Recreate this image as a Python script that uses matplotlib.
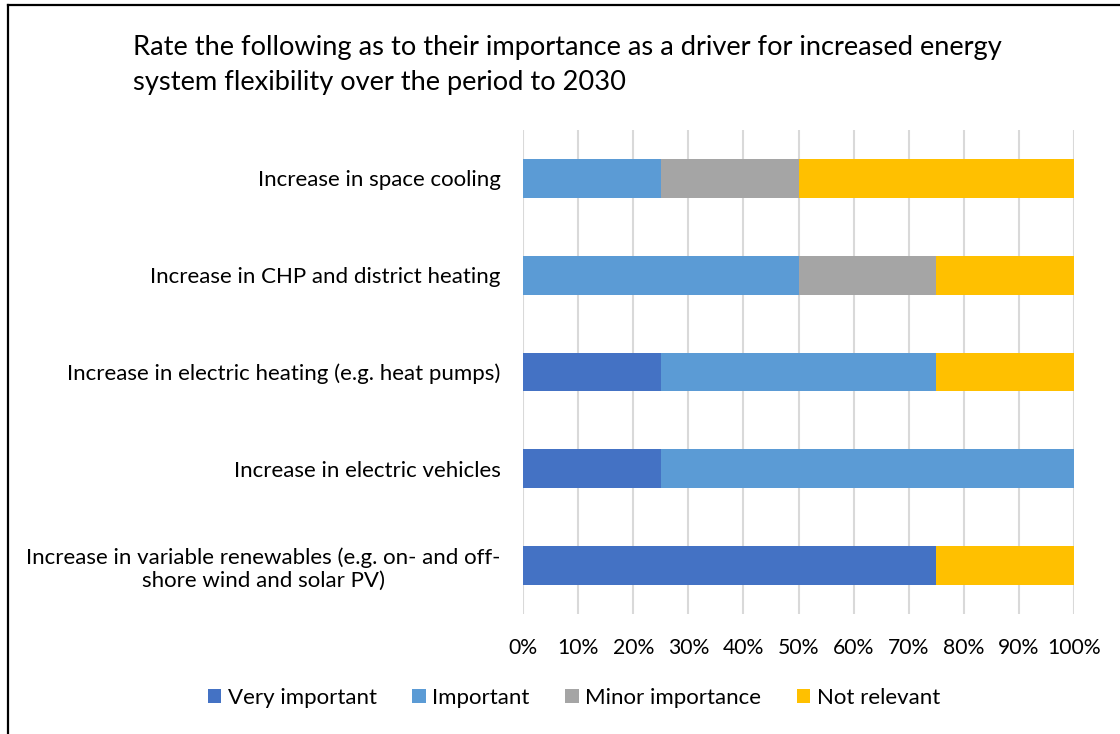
import matplotlib
matplotlib.use("Agg")
import matplotlib.pyplot as plt
from matplotlib.lines import Line2D
from matplotlib.patches import Patch
import numpy as np

categories = [
    "Increase in space cooling",
    "Increase in CHP and district heating",
    "Increase in electric heating (e.g. heat pumps)",
    "Increase in electric vehicles",
    "Increase in variable renewables (e.g. on- and off-\nshore wind and solar PV)",
]
series_names = ["Very important", "Important", "Minor importance", "Not relevant"]
very_important = [0, 0, 25, 25, 75]
important = [25, 50, 50, 75, 0]
minor_importance = [25, 25, 0, 0, 0]
not_relevant = [50, 25, 25, 0, 25]
colors = ["#4472C4", "#5B9BD5", "#A5A5A5", "#FFC000"]
x_ticks = list(range(0, 101, 10))
x_ticklabels = [f"{v}%" for v in x_ticks]
title = ("Rate the following as to their importance as a driver for increased energy\n"
         "system flexibility over the period to 2030")

plt.rcParams['font.family'] = ['Lato', 'DejaVu Sans']

W, H = 1120, 734
fig = plt.figure(figsize=(W / 100, H / 100), dpi=100)
ax = fig.add_axes([523 / W, 1 - 614 / H, (1074 - 523) / W, (614 - 130) / H])

y = np.arange(len(categories))
data = [very_important, important, minor_importance, not_relevant]
left = np.zeros(len(categories))
for vals, c, name in zip(data, colors, series_names):
    vals = np.array(vals, dtype=float)
    ax.barh(y, vals, left=left, height=0.4, color=c, label=name, zorder=3)
    left += vals

ax.set_ylim(len(categories) - 0.5, -0.5)
ax.set_xlim(0, 100)
ax.set_yticks(y)
ax.set_yticklabels(categories, fontsize=16, color="#000000", multialignment="center")
ax.tick_params(axis="y", length=0, pad=16)
ax.set_xticks(x_ticks)
ax.set_xticklabels(x_ticklabels, fontsize=15.2, color="#000000")
ax.tick_params(axis="x", length=0, pad=17)
ax.grid(axis="x", color="#D9D9D9", linewidth=1.5, zorder=0)
for s in ax.spines.values():
    s.set_visible(False)

fig.text(133 / W, 1 - 35 / H, title, fontsize=19.6, va="top", ha="left",
         linespacing=1.5, color="#000000")

handles = [Patch(facecolor=c, edgecolor="none") for c in colors]
leg = fig.legend(handles, series_names, loc="center", bbox_to_anchor=(574 / W, 1 - 698 / H),
                 ncol=4, frameon=False, fontsize=16, handlelength=0.6, handleheight=0.6,
                 handletextpad=0.3, columnspacing=1.6)

fig.add_artist(Line2D([8 / W, 8 / W], [0, 1 - 5 / H], transform=fig.transFigure,
                      color="black", linewidth=1.6))
fig.add_artist(Line2D([8 / W, 1], [1 - 5 / H, 1 - 5 / H], transform=fig.transFigure,
                      color="black", linewidth=1.6))

fig.savefig("out.png", dpi=100, facecolor="white")
